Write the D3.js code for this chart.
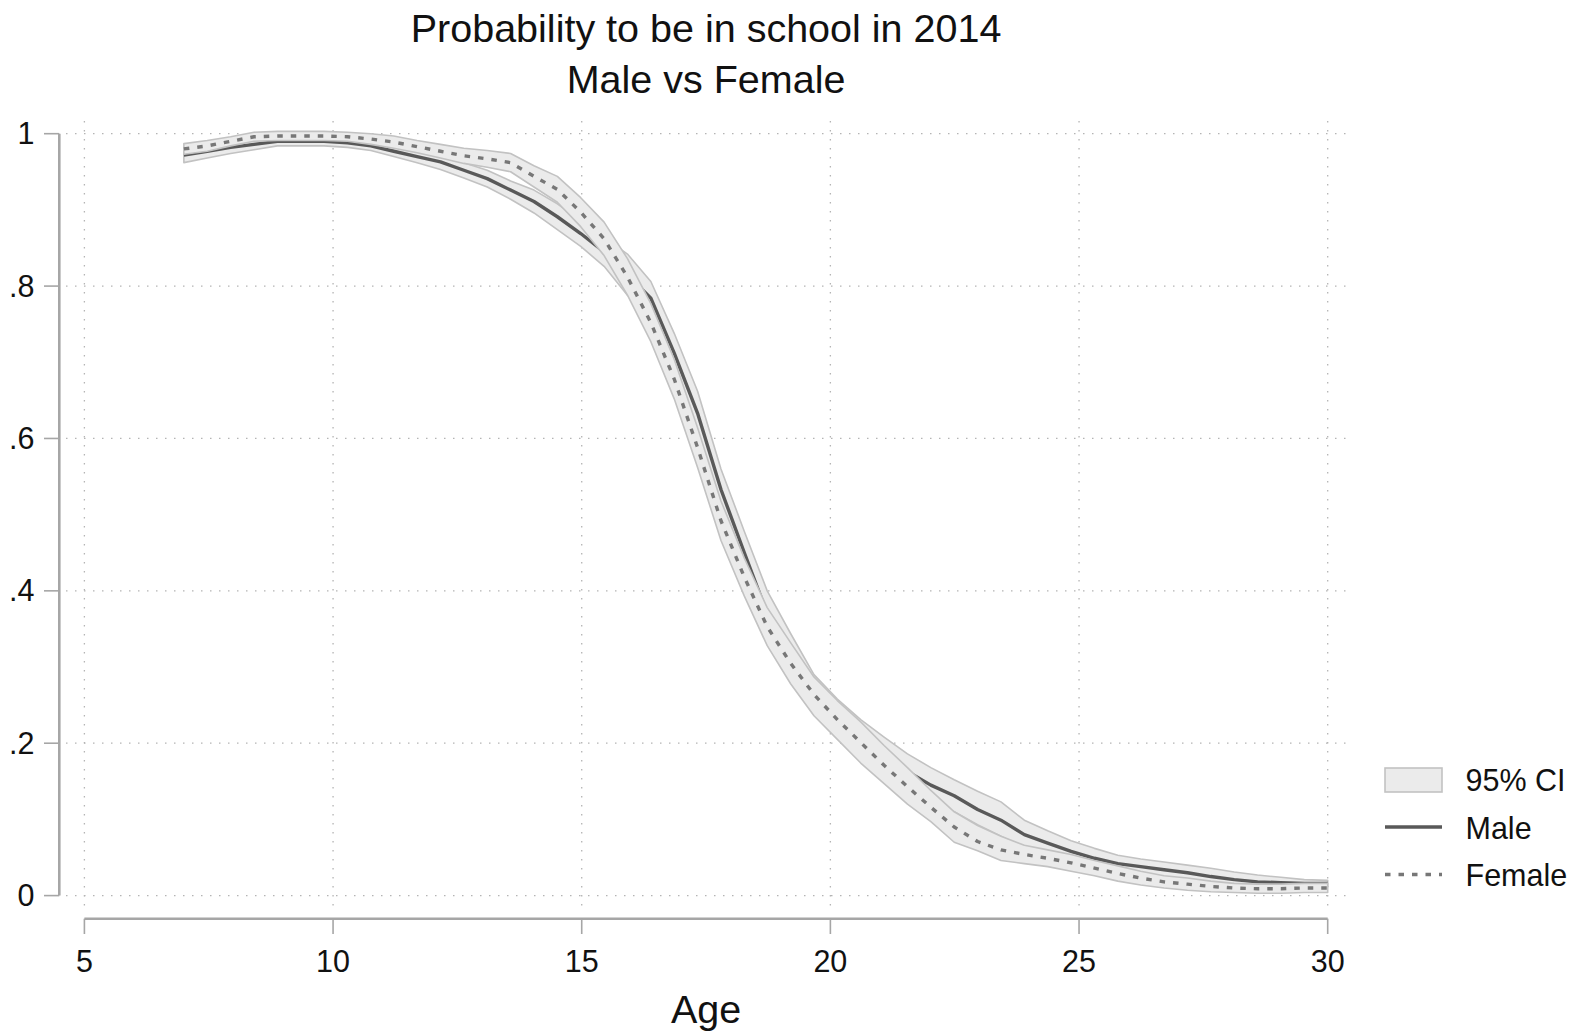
<!DOCTYPE html>
<html>
<head>
<meta charset="utf-8">
<script src="https://cdn.jsdelivr.net/npm/d3@7"></script>
<style>
  body { margin: 0; background: #fff; }
  svg { display: block; font-family: "Liberation Sans", Arial, Helvetica, sans-serif; }
</style>
</head>
<body>
<div id="chart"></div>
<script>
// lpoly grid: 50 points from 7 to 30
const ages = [7.00, 7.47, 7.94, 8.41, 8.88, 9.35, 9.82, 10.29, 10.76, 11.22,
  11.69, 12.16, 12.63, 13.10, 13.57, 14.04, 14.51, 14.98, 15.45, 15.92,
  16.39, 16.86, 17.33, 17.80, 18.27, 18.73, 19.20, 19.67, 20.14, 20.61,
  21.08, 21.55, 22.02, 22.49, 22.96, 23.43, 23.90, 24.37, 24.84, 25.31,
  25.78, 26.24, 26.71, 27.18, 27.65, 28.12, 28.59, 29.06, 29.53, 30.00];

const male = [.972, .977, .982, .986, .990, .990, .990, .988, .984, .977,
  .970, .963, .952, .941, .926, .911, .891, .869, .845, .815,
  .784, .712, .633, .533, .450, .370, .315, .262, .232, .205,
  .183, .163, .145, .131, .113, .099, .080, .069, .058, .049,
  .042, .038, .034, .030, .025, .021, .018, .017, .016, .016];
const maleLo = [.962, .968, .974, .979, .984, .984, .984, .982, .978, .970,
  .962, .953, .942, .930, .914, .896, .874, .852, .826, .788,
  .760, .685, .604, .505, .418, .345, .290, .238, .208, .182,
  .160, .141, .124, .110, .093, .078, .063, .054, .045, .037,
  .031, .028, .025, .021, .018, .015, .013, .012, .012, .012];
const maleHi = [.982, .986, .990, .993, .996, .996, .996, .994, .990, .984,
  .978, .973, .962, .952, .938, .926, .908, .886, .864, .842,
  .806, .738, .662, .560, .478, .400, .344, .290, .258, .231,
  .208, .186, .168, .152, .137, .123, .099, .085, .072, .062,
  .053, .048, .044, .040, .036, .031, .027, .024, .021, .020];

const female = [.980, .984, .990, .996, .997, .997, .997, .996, .993, .989,
  .983, .977, .971, .967, .962, .944, .927, .897, .862, .812,
  .752, .678, .588, .492, .418, .353, .305, .264, .231, .201,
  .171, .143, .116, .090, .071, .060, .054, .049, .043, .036,
  .029, .023, .018, .015, .012, .010, .009, .009, .010, .010];
const femaleLo = [.973, .977, .984, .990, .991, .991, .991, .990, .986, .981,
  .975, .968, .961, .956, .950, .930, .910, .878, .840, .788,
  .727, .652, .562, .466, .393, .328, .278, .236, .205, .174,
  .147, .120, .097, .070, .059, .046, .042, .038, .032, .026,
  .019, .014, .010, .007, .005, .004, .003, .003, .004, .004];
const femaleHi = [.987, .991, .996, 1.002, 1.003, 1.003, 1.003, 1.002, 1.000, .997,
  .991, .986, .981, .978, .974, .958, .944, .916, .884, .836,
  .777, .704, .614, .518, .443, .378, .332, .287, .256, .228,
  .197, .168, .138, .110, .092, .078, .066, .060, .054, .046,
  .039, .032, .026, .023, .019, .016, .015, .015, .016, .016];

const xTicks = [5, 10, 15, 20, 25, 30];
const yTicks = [0, .2, .4, .6, .8, 1];
const yTickLabels = ["0", ".2", ".4", ".6", ".8", "1"];
const titleLines = ["Probability to be in school in 2014", "Male vs Female"];
const legendLabels = ["95% CI", "Male", "Female"];

const width = 1576, height = 1034;
const x = d3.scaleLinear().domain([5, 30]).range([84.4, 1327.7]);
const y = d3.scaleLinear().domain([0, 1]).range([895.6, 133.7]);

const svg = d3.select("#chart").append("svg")
    .attr("width", width)
    .attr("height", height);

// grid
const grid = svg.append("g")
    .attr("stroke", "#b4b4b4")
    .attr("stroke-width", 1.3)
    .attr("stroke-dasharray", "1.5,7.5");
grid.selectAll("line.h").data(yTicks).join("line")
    .attr("x1", 66).attr("x2", 1347)
    .attr("y1", d => y(d)).attr("y2", d => y(d));
grid.selectAll("line.v").data(xTicks).join("line")
    .attr("x1", d => x(d)).attr("x2", d => x(d))
    .attr("y1", 121).attr("y2", 909);

const rows = ages.map((a, i) => ({a, m: male[i], ml: maleLo[i], mh: maleHi[i],
  f: female[i], fl: femaleLo[i], fh: femaleHi[i]}));

const bandFill = "#ebebeb", bandStroke = "#c2c2c2";

function band(lo, hi) {
  const area = d3.area().x(d => x(d.a)).y0(d => y(d[lo])).y1(d => y(d[hi]));
  svg.append("path").datum(rows)
      .attr("d", area)
      .attr("fill", bandFill)
      .attr("stroke", bandStroke)
      .attr("stroke-width", 1.6)
      .attr("stroke-linejoin", "round");
}
function line(key, color, dash) {
  const ln = d3.line().x(d => x(d.a)).y(d => y(d[key]));
  svg.append("path").datum(rows)
      .attr("d", ln)
      .attr("fill", "none")
      .attr("stroke", color)
      .attr("stroke-width", 3.4)
      .attr("stroke-dasharray", dash)
      .attr("stroke-linejoin", "round");
}

band("ml", "mh");
line("m", "#595959", null);
band("fl", "fh");
line("f", "#777777", "5.5,8");

// y axis
const axisColor = "#a6a6a6";
svg.append("line")
    .attr("x1", 59.3).attr("x2", 59.3)
    .attr("y1", y(0)).attr("y2", y(1))
    .attr("stroke", axisColor).attr("stroke-width", 2.6);
svg.selectAll(".ytick").data(yTicks).join("line")
    .attr("x1", 44).attr("x2", 59.3)
    .attr("y1", d => y(d)).attr("y2", d => y(d))
    .attr("stroke", axisColor).attr("stroke-width", 1.6);
svg.selectAll(".ylab").data(yTicks).join("text")
    .attr("x", 34.5)
    .attr("y", d => y(d) + 10.5)
    .attr("text-anchor", "end")
    .attr("font-size", 30.5)
    .attr("fill", "#111")
    .text((d, i) => yTickLabels[i]);

// x axis
svg.append("line")
    .attr("x1", x(5)).attr("x2", x(30))
    .attr("y1", 918.7).attr("y2", 918.7)
    .attr("stroke", axisColor).attr("stroke-width", 2.6);
svg.selectAll(".xtick").data(xTicks).join("line")
    .attr("x1", d => x(d)).attr("x2", d => x(d))
    .attr("y1", 918.7).attr("y2", 934)
    .attr("stroke", axisColor).attr("stroke-width", 1.6);
svg.selectAll(".xlab").data(xTicks).join("text")
    .attr("x", d => x(d))
    .attr("y", 972)
    .attr("text-anchor", "middle")
    .attr("font-size", 30.5)
    .attr("fill", "#111")
    .text(d => d);

svg.append("text")
    .attr("x", (x(5) + x(30)) / 2)
    .attr("y", 1023)
    .attr("text-anchor", "middle")
    .attr("font-size", 39.5)
    .attr("fill", "#111")
    .text("Age");

// title
svg.selectAll(".title").data(titleLines).join("text")
    .attr("x", (x(5) + x(30)) / 2)
    .attr("y", (d, i) => 42 + i * 51)
    .attr("text-anchor", "middle")
    .attr("font-size", 39.5)
    .attr("fill", "#111")
    .text(d => d);

// legend
const lg = svg.append("g");
lg.append("rect")
    .attr("x", 1385).attr("y", 768).attr("width", 57).attr("height", 24)
    .attr("fill", bandFill).attr("stroke", bandStroke).attr("stroke-width", 1.6);
lg.append("line")
    .attr("x1", 1385).attr("x2", 1442).attr("y1", 827).attr("y2", 827)
    .attr("stroke", "#595959").attr("stroke-width", 3.4);
lg.append("line")
    .attr("x1", 1385).attr("x2", 1442).attr("y1", 874.5).attr("y2", 874.5)
    .attr("stroke", "#777777").attr("stroke-width", 3.4).attr("stroke-dasharray", "5.5,8");
lg.selectAll("text").data(legendLabels).join("text")
    .attr("x", 1465.5)
    .attr("y", (d, i) => 791 + i * 47.5)
    .attr("font-size", 30.5)
    .attr("fill", "#111")
    .text(d => d);
</script>
</body>
</html>
